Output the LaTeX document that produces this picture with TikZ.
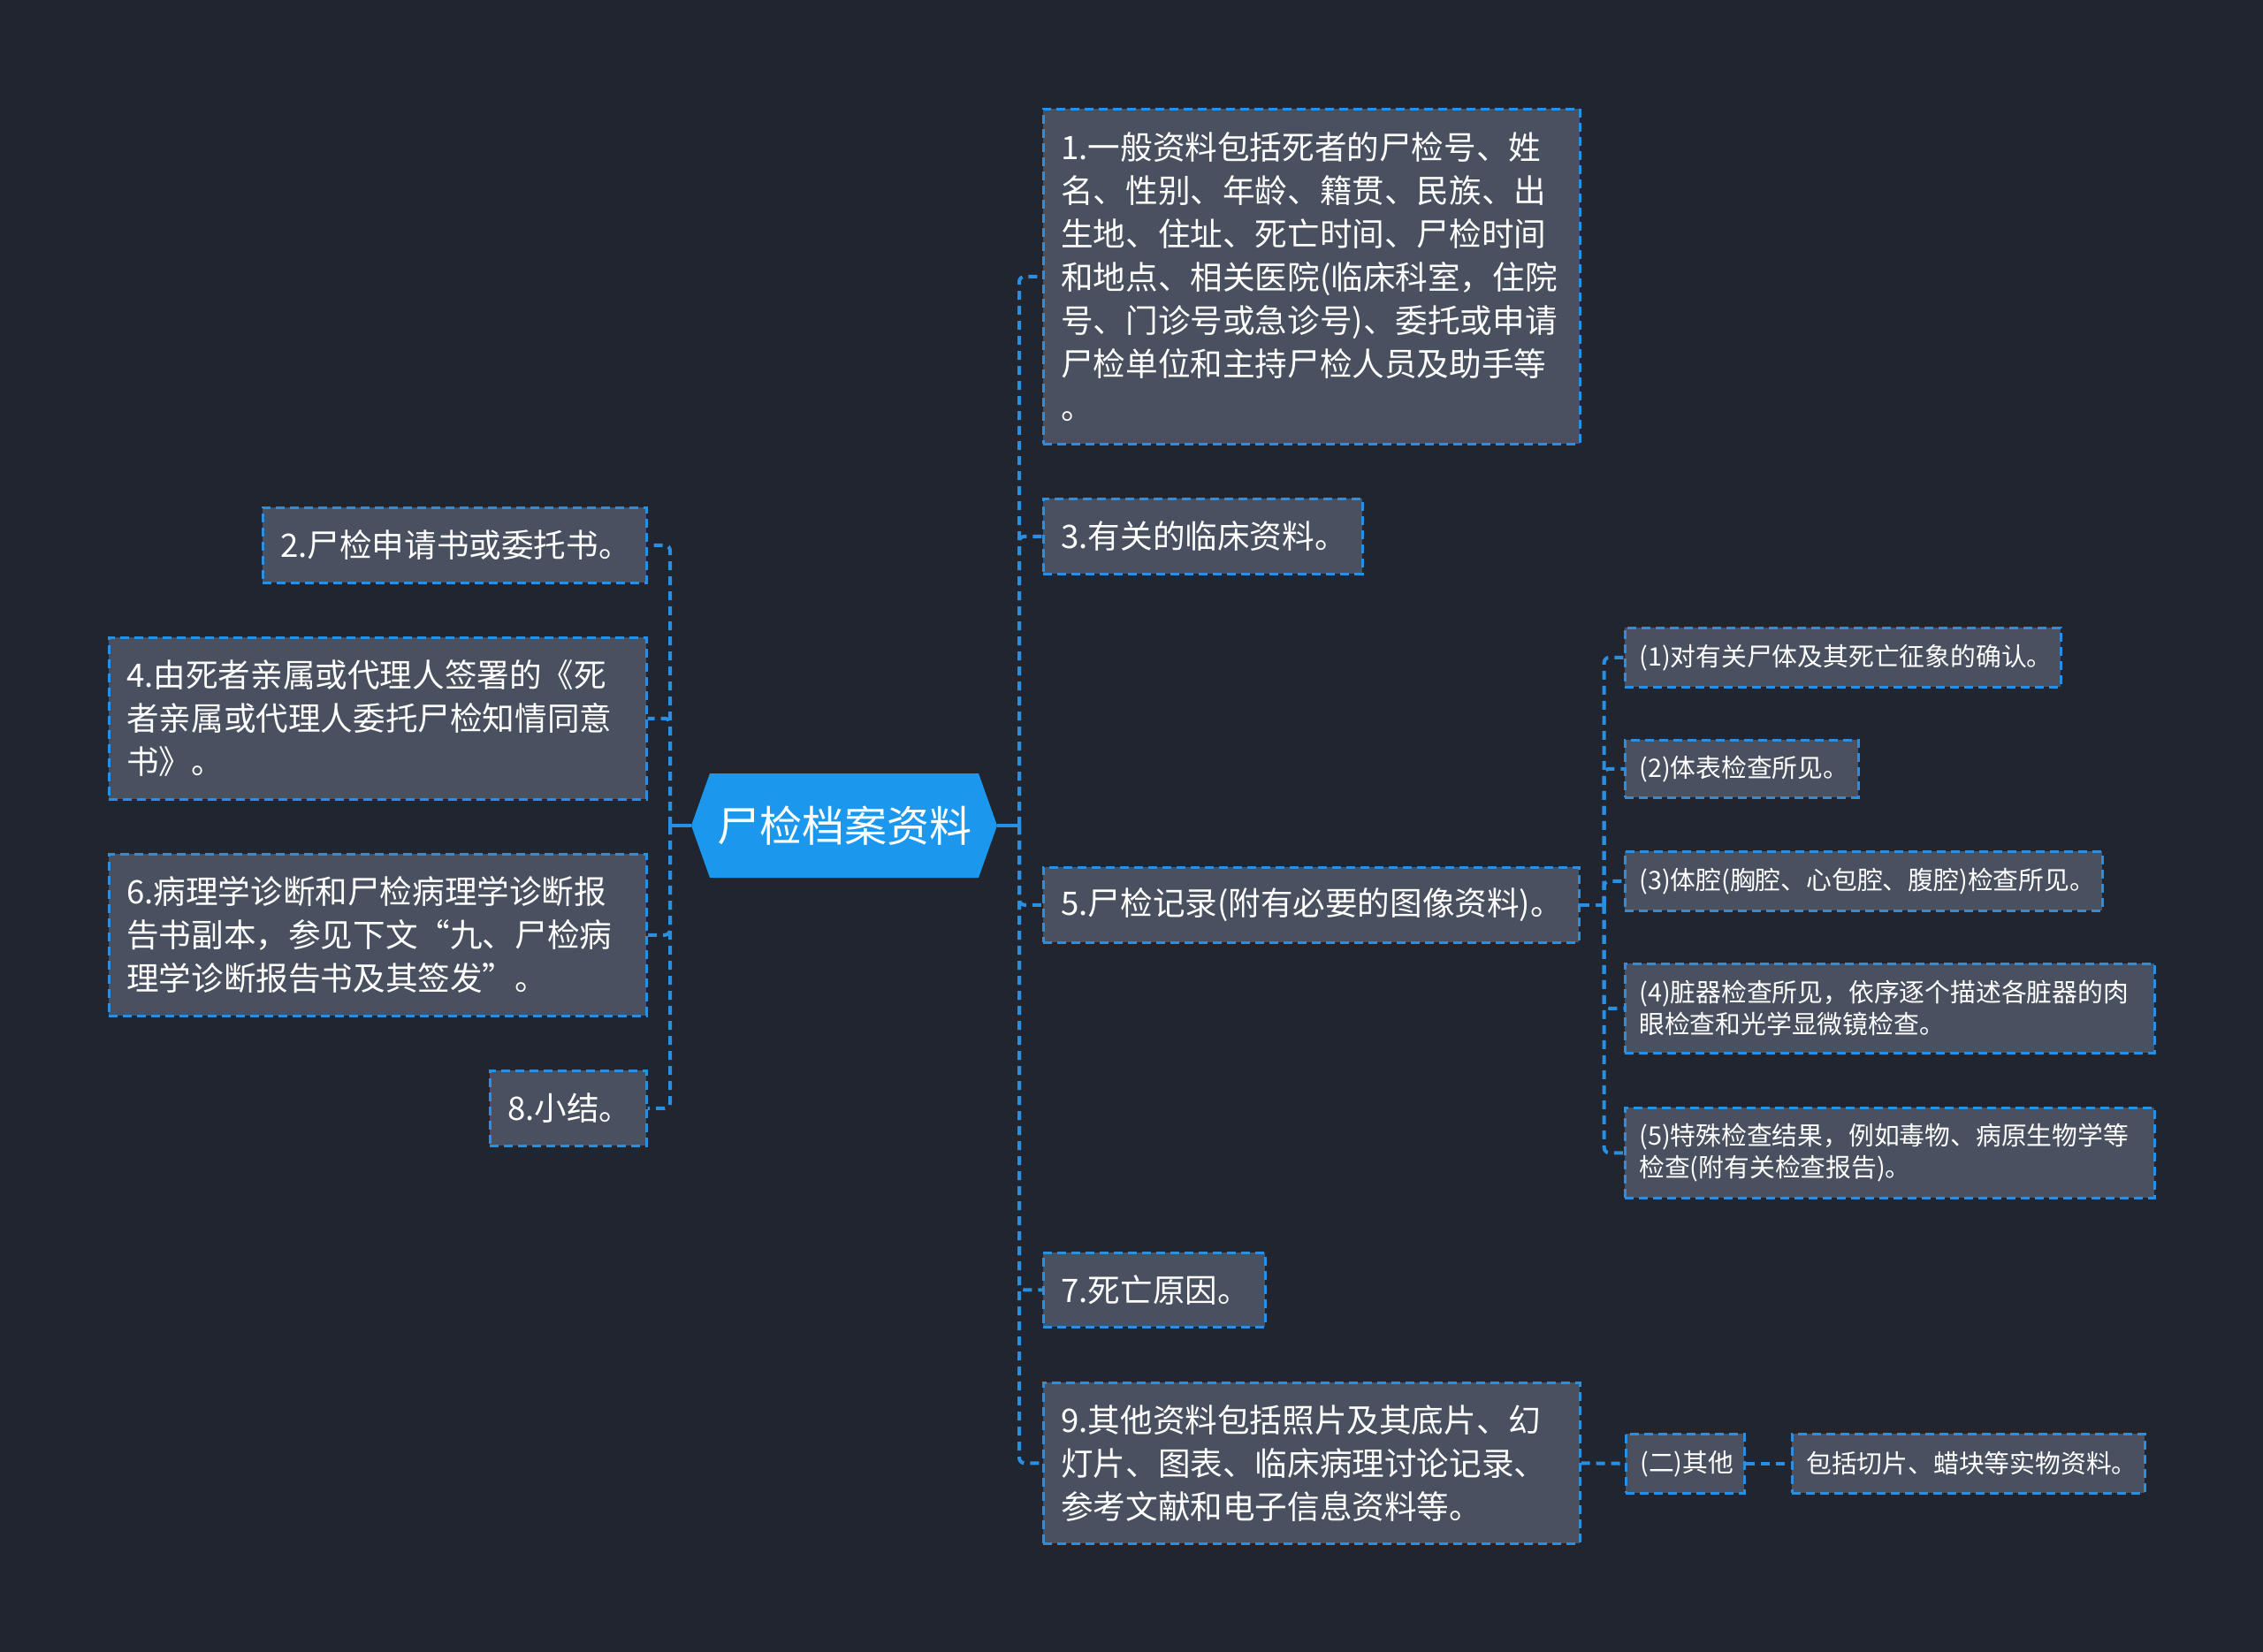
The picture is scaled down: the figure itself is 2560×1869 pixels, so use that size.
\documentclass[tikz,border=0pt]{standalone}
\usepackage{fontspec}
\setmainfont{Noto Sans CJK SC}
\usetikzlibrary{calc}
\definecolor{bg}{HTML}{212530}
\definecolor{boxfill}{HTML}{49505F}
\definecolor{lineblue}{HTML}{2A8FE0}
\definecolor{cblue}{HTML}{1B98EE}
\definecolor{txt}{HTML}{FFFFFF}
\tikzset{
 box/.style={draw=lineblue, fill=boxfill, line width=1.3pt, dash pattern=on 5pt off 3pt,
   text=txt, anchor=north west, inner ysep=2pt, align=left},
 lvone/.style={box, font=\fontsize{18.3pt}{24.5pt}\selectfont, inner xsep=10pt},
 lvtwo/.style={box, font=\fontsize{14.4pt}{18pt}\selectfont, inner xsep=8pt},
 con/.style={draw=lineblue, line width=2pt, dash pattern=on 5pt off 3.5pt, rounded corners=3pt},
 solidcon/.style={draw=lineblue, line width=2pt},
 hexnode/.style={fill=bg, text=white, font=\fontsize{24pt}{28pt}\selectfont,
   minimum width=173pt, minimum height=59pt, inner sep=0pt,
   path picture={\fill[cblue] (path picture bounding box.west)
     -- ([xshift=10.5pt]path picture bounding box.north west)
     -- ([xshift=-10.5pt]path picture bounding box.north east)
     -- (path picture bounding box.east)
     -- ([xshift=-10.5pt]path picture bounding box.south east)
     -- ([xshift=10.5pt]path picture bounding box.south west) -- cycle;}},
}
\begin{document}
\begin{tikzpicture}[x=0.5pt,y=-0.5pt]
\fill[bg] (0,0) rectangle (2560,1869);
\useasboundingbox (0,0) rectangle (2560,1869);

\node[hexnode] (c) at (955,934) {尸检档案资料};

% right level 1
\node[lvone, text width=283.5pt, minimum height=189.5pt] (n1) at (1179,122)
 {1.一般资料包括死者的尸检号、姓\\名、性别、年龄、籍贯、民族、出\\生地、住址、死亡时间、尸检时间\\和地点、相关医院(临床科室，住院\\号、门诊号或急诊号)、委托或申请\\尸检单位和主持尸检人员及助手等\\。};
\node[lvone, text width=160.5pt, minimum height=42.5pt] (n3) at (1179,563) {3.有关的临床资料。};
\node[lvone, text width=283pt, minimum height=42.5pt] (n5) at (1179,980) {5.尸检记录(附有必要的图像资料)。};
\node[lvone, text width=105.5pt, minimum height=42pt] (n7) at (1179,1416) {7.死亡原因。};
\node[lvone, text width=283.5pt, minimum height=91pt] (n9) at (1179,1563)
 {9.其他资料包括照片及其底片、幻\\灯片、图表、临床病理讨论记录、\\参考文献和电子信息资料等。};

% left level 1
\node[lvone, text width=197pt, minimum height=42.5pt] (n2) at (296,573) {2.尸检申请书或委托书。};
\node[lvone, text width=284pt, minimum height=91.5pt] (n4) at (122,720)
 {4.由死者亲属或代理人签署的《死\\者亲属或代理人委托尸检知情同意\\书》。};
\node[lvone, text width=284pt, minimum height=91.5pt] (n6) at (122,965)
 {6.病理学诊断和尸检病理学诊断报\\告书副本，参见下文“九、尸检病\\理学诊断报告书及其签发”。};
\node[lvone, text width=68.5pt, minimum height=42.5pt] (n8) at (553,1210) {8.小结。};

% level 2 under 5
\node[lvtwo, text width=230.5pt, minimum height=33.5pt] (s1) at (1837,709) {(1)对有关尸体及其死亡征象的确认。};
\node[lvtwo, text width=116pt, minimum height=32.5pt] (s2) at (1837,836) {(2)体表检查所见。};
\node[lvtwo, text width=254pt, minimum height=33.5pt] (s3) at (1837,962) {(3)体腔(胸腔、心包腔、腹腔)检查所见。};
\node[lvtwo, text width=283.5pt, minimum height=50.5pt] (s4) at (1837,1089)
 {(4)脏器检查所见，依序逐个描述各脏器的肉\\眼检查和光学显微镜检查。};
\node[lvtwo, text width=283.5pt, minimum height=51pt] (s5) at (1837,1252)
 {(5)特殊检查结果，例如毒物、病原生物学等\\检查(附有关检查报告)。};

% under 9
\node[lvtwo, text width=51pt, minimum height=33.5pt] (q) at (1838,1621) {(二)其他};
\node[lvtwo, text width=183.5pt, minimum height=33.5pt] (l) at (2026,1621) {包括切片、蜡块等实物资料。};

% connectors
\coordinate (rt) at (1153,934);
\coordinate (lt) at (758,934);
\draw[solidcon] (c.east) -- (rt);
\draw[solidcon] (c.west) -- (lt);
\foreach \n in {n1,n3,n5,n7,n9} \draw[con] (rt) |- (\n.west);
\foreach \n in {n2,n4,n6,n8} \draw[con] (lt) |- (\n.east);
\coordinate (st) at ($(n5.east)+(27,0)$);
\draw[con] (n5.east) -- (st);
\foreach \n in {s1,s2,s3,s4,s5} \draw[con] (st) |- (\n.west);
\draw[con] (n9.east) -- (q.west);
\draw[con] (q.east) -- (l.west);
\end{tikzpicture}
\end{document}
